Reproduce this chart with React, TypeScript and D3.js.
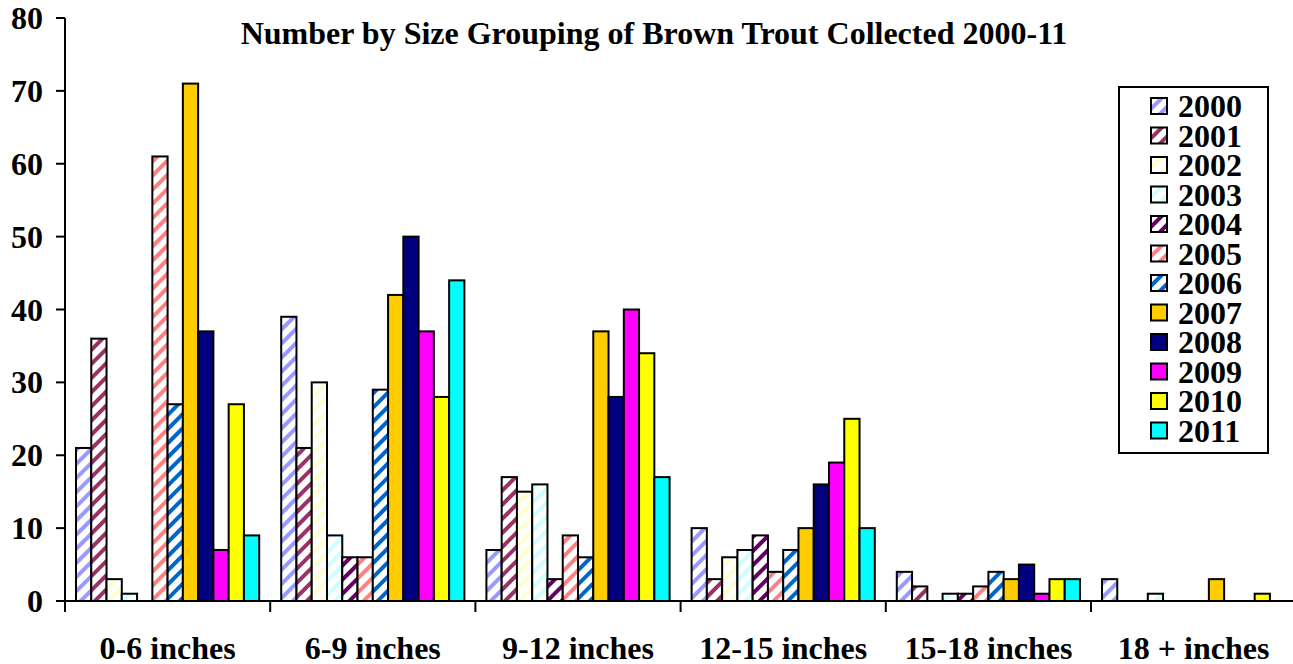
import React from "react";
import * as d3 from "d3";

const title = "Number by Size Grouping of Brown Trout Collected 2000-11";
const categories = ["0-6 inches", "6-9 inches", "9-12 inches", "12-15 inches", "15-18 inches", "18 + inches"];
const years = ["2000", "2001", "2002", "2003", "2004", "2005", "2006", "2007", "2008", "2009", "2010", "2011"];
const yTicks = [0, 10, 20, 30, 40, 50, 60, 70, 80];

const v2000 = [21, 39, 7, 10, 4, 3];
const v2001 = [36, 21, 17, 3, 2, 0];
const v2002 = [3, 30, 15, 6, 0, 0];
const v2003 = [1, 9, 16, 7, 1, 1];
const v2004 = [0, 6, 3, 9, 1, 0];
const v2005 = [61, 6, 9, 4, 2, 0];
const v2006 = [27, 29, 6, 7, 4, 0];
const v2007 = [71, 42, 37, 10, 3, 3];
const v2008 = [37, 50, 28, 16, 5, 0];
const v2009 = [7, 37, 40, 19, 1, 0];
const v2010 = [27, 28, 34, 25, 3, 1];
const v2011 = [9, 44, 17, 10, 3, 0];
const seriesValues = [v2000, v2001, v2002, v2003, v2004, v2005, v2006, v2007, v2008, v2009, v2010, v2011];

const colors = ["#9999ff", "#993366", "#ffffcc", "#ccffff", "#660066", "#ff8080", "#0066cc", "#ffcc00", "#000080", "#ff00ff", "#ffff00", "#00ffff"];
const striped = [true, true, true, true, true, true, true, false, false, false, false, false];

const W = 1293;
const H = 664;
const FONT = "'Liberation Serif', 'Times New Roman', serif";

export default function App() {
  const x0 = d3.scaleBand<string>().domain(categories).range([65, 65 + 205.2 * 6]).padding(0);
  const gw = x0.bandwidth();
  const x1 = d3.scaleBand<string>().domain(years).range([11, gw - 11]).padding(0);
  const y = d3.scaleLinear().domain([0, 80]).range([601, 18]);

  const fillFor = (i: number) => (striped[i] ? `url(#pat${i})` : colors[i]);

  return (
    <svg width={W} height={H} style={{ position: "absolute", left: 0, top: 0, background: "#fff" }} fontFamily={FONT}>
      <defs>
        {colors.map((c, i) =>
          striped[i] ? (
            <pattern key={i} id={`pat${i}`} patternUnits="userSpaceOnUse" width={10} height={10} patternTransform="rotate(45)">
              <rect x={0} y={0} width={10} height={10} fill="#fff" />
              <rect x={0} y={0} width={4} height={10} fill={c} />
            </pattern>
          ) : null
        )}
      </defs>
      <rect x={0} y={0} width={W} height={H} fill="#fff" />
      <text x={654} y={44} textAnchor="middle" fontSize={32} fontWeight="bold">{title}</text>

      {/* bars */}
      {seriesValues.map((vals, si) =>
        vals.map((v, ci) =>
          v > 0 ? (
            <rect
              key={`${si}-${ci}`}
              x={(x0(categories[ci]) as number) + (x1(years[si]) as number)}
              y={y(v)}
              width={x1.bandwidth()}
              height={y(0) - y(v)}
              fill={fillFor(si)}
              stroke="#000"
              strokeWidth={2}
            />
          ) : null
        )
      )}

      {/* y axis */}
      <line x1={65} x2={65} y1={y(80)} y2={y(0)} stroke="#000" strokeWidth={2} />
      {yTicks.map((t) => (
        <g key={t}>
          <line x1={56} x2={65} y1={y(t)} y2={y(t)} stroke="#000" strokeWidth={2} />
          <text x={43} y={y(t) + 11} textAnchor="end" fontSize={32} fontWeight="bold">{t}</text>
        </g>
      ))}

      {/* x axis */}
      <line x1={65} x2={W + 5} y1={y(0)} y2={y(0)} stroke="#000" strokeWidth={2} />
      {categories.map((c) => (
        <g key={c}>
          <line x1={x0(c) as number} x2={x0(c) as number} y1={y(0)} y2={y(0) + 11} stroke="#000" strokeWidth={2} />
          <text x={(x0(c) as number) + gw / 2} y={659} textAnchor="middle" fontSize={32} fontWeight="bold">{c}</text>
        </g>
      ))}

      {/* legend */}
      <rect x={1119} y={87} width={149} height={366} fill="#fff" stroke="#000" strokeWidth={2} />
      {years.map((yr, i) => (
        <g key={yr} transform={`translate(1151, ${106 + i * 29.5})`}>
          <rect x={0} y={-8} width={16} height={16} fill={fillFor(i)} stroke="#000" strokeWidth={2} />
          <text x={27} y={11} fontSize={32} fontWeight="bold">{yr}</text>
        </g>
      ))}
    </svg>
  );
}
